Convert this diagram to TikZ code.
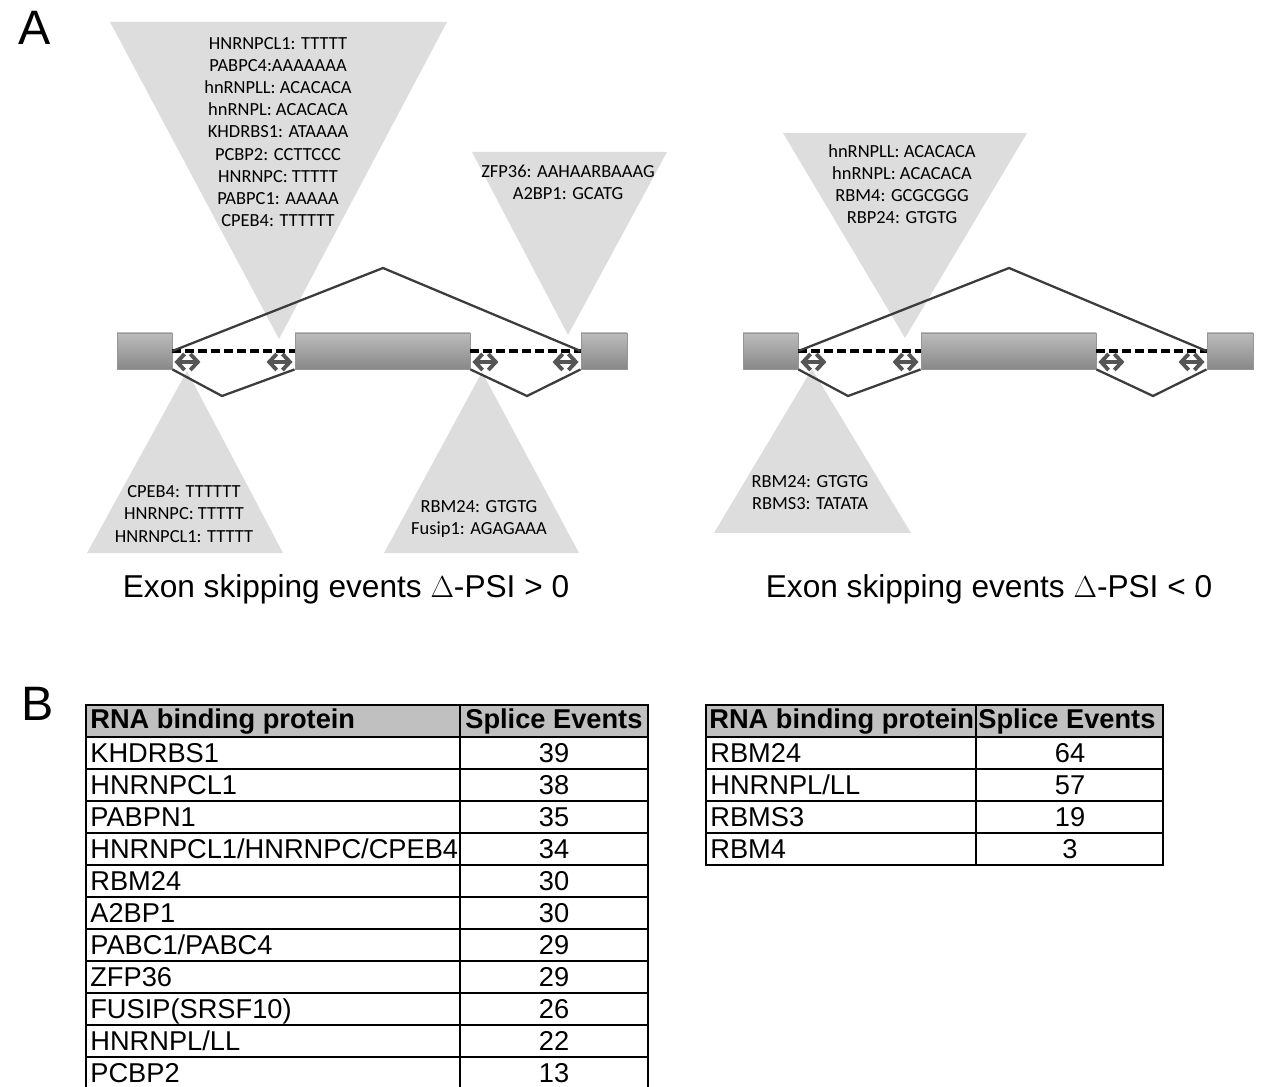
\documentclass[tikz,border=0pt]{standalone}
\usepackage{fontspec}
\setmainfont{Liberation Sans}
\newfontfamily\calibri{Carlito}
\usetikzlibrary{arrows.meta,positioning,fit,calc,shadows}
\definecolor{mist}{RGB}{221,221,221}
\definecolor{exontop}{RGB}{188,188,188}
\definecolor{exonbot}{RGB}{136,136,136}
\definecolor{exonrim}{RGB}{150,150,150}
\definecolor{intron}{RGB}{60,60,60}
\definecolor{flankgray}{RGB}{85,85,85}
\definecolor{headgray}{RGB}{192,192,192}
\tikzset{
  exon/.style={draw=exonrim,line width=0.5pt,top color=exontop,bottom color=exonbot,inner sep=0pt,
    drop shadow={opacity=0.25,shadow xshift=0.7pt,shadow yshift=-0.7pt}},
  splice/.style={draw=intron,line width=1.3pt},
  junction/.style={line width=1.8pt,dash pattern=on 4.8pt off 2.6pt},
  flank/.style={draw=flankgray,line width=2.2pt,{Straight Barb[length=1.5mm,width=3.2mm]}-{Straight Barb[length=1.5mm,width=3.2mm]}},
  motif/.style={font=\calibri\fontsize{10.5}{12.6}\selectfont,align=center},
  caption/.style={font=\fontsize{18}{21}\selectfont,anchor=base},
  panel/.style={font=\fontsize{27.5}{30}\selectfont,anchor=base west},
  cell/.style={font=\fontsize{15.5}{18}\selectfont,inner sep=0pt,anchor=base west},
  headcell/.style={cell,font=\fontsize{15.5}{18}\selectfont\bfseries},
  tabline/.style={line width=1.1pt}
}

\begin{document}
\begin{tikzpicture}[x=0.2mm,y=-0.2mm]
  \useasboundingbox (0,0) rectangle (1261,1087);
  \node[panel] (pa) at (12,45) {A};
  \node[panel] (pb) at (15,720) {B};

  % motif triangles
  \fill[mist] (110,22) -- (447,22) -- (279,339) -- cycle;
  \fill[mist] (472,152) -- (667,152) -- (568,335) -- cycle;
  \fill[mist] (783,133) -- (1027,133) -- (905,338) -- cycle;
  \fill[mist] (87,553) -- (283,553) -- (187,371) -- cycle;
  \fill[mist] (384,553) -- (579,553) -- (482,372) -- cycle;
  \fill[mist] (714,533) -- (911,533) -- (812,369) -- cycle;
  \node[motif] (m1) at (278,132) {HNRNPCL1: TTTTT\\PABPC4:AAAAAAA\\hnRNPLL: ACACACA\\hnRNPL: ACACACA\\KHDRBS1: ATAAAA\\PCBP2: CCTTCCC\\HNRNPC: TTTTT\\PABPC1: AAAAA\\CPEB4: TTTTTT};
  \node[motif] (m2) at (568,182) {ZFP36: AAHAARBAAAG\\A2BP1: GCATG};
  \node[motif] (m3) at (902,184) {hnRNPLL: ACACACA\\hnRNPL: ACACACA\\RBM4: GCGCGGG\\RBP24: GTGTG};
  \node[motif] (m4) at (184,514) {CPEB4: TTTTTT\\HNRNPC: TTTTT\\HNRNPCL1: TTTTT};
  \node[motif] (m5) at (479,519) {RBM24: GTGTG\\Fusip1: AGAGAAA};
  \node[motif] (m6) at (810,493) {RBM24: GTGTG\\RBMS3: TATATA};

  % the two exon skipping events
  \foreach \g/\dx in {l/0,r/626}{
    \node[exon,fit={(117+\dx,333)(172+\dx,369)}] (\g1) {};
    \node[exon,fit={(295+\dx,333)(470+\dx,369)}] (\g2) {};
    \node[exon,fit={(581+\dx,333)(627+\dx,369)}] (\g3) {};
    \coordinate (\g top) at (383+\dx,268);
    \coordinate (\g dipA) at (222+\dx,396);
    \coordinate (\g dipB) at (527+\dx,396);
    \draw[junction] (\g1.east) -- (\g2.west) (\g2.east) -- (\g3.west);
    \draw[splice] (\g1.east) -- (\g top) -- (\g3.west);
    \draw[splice] (\g1.south east) -- (\g dipA) -- (\g2.south west);
    \draw[splice] (\g2.south east) -- (\g dipB) -- (\g3.south west);
    \draw[flank] ([shift={(2,11)}]\g1.east) -- ++(26,0);
    \draw[flank] ([shift={(-28,11)}]\g2.west) -- ++(26,0);
    \draw[flank] ([shift={(2,11)}]\g2.east) -- ++(26,0);
    \draw[flank] ([shift={(-28,11)}]\g3.west) -- ++(26,0);
  }
  \node[caption] (capl) at (346,597) {Exon skipping events $\Delta$-PSI > 0};
  \node[caption] (capr) at (989,597) {Exon skipping events $\Delta$-PSI < 0};

  % table, positive events
  \fill[headgray] (86,705) rectangle (648,737);
  \node[headcell] (lh1) at (90,728) {RNA binding protein};
  \node[headcell] (lh2) at (465,728) {Splice Events};
  \foreach \p/\n [count=\i] in {KHDRBS1/39,HNRNPCL1/38,PABPN1/35,HNRNPCL1\slash HNRNPC\slash CPEB4/34,
    RBM24/30,A2BP1/30,PABC1\slash PABC4/29,ZFP36/29,FUSIP(SRSF10)/26,HNRNPL\slash LL/22,PCBP2/13}{
    \node[cell] (lp\i) at (90,730+32*\i) {\p};
    \node[cell,anchor=base] (lv\i) at (554,730+32*\i) {\n};
  }
  \foreach \i in {0,...,10}
    \draw[tabline] (86,737+32*\i) -- (648,737+32*\i);
  \draw[tabline] (86,705) rectangle (648,1091) (460,705) -- (460,1091);

  % table, negative events
  \fill[headgray] (706,705) rectangle (1163,737);
  \node[headcell] (rh1) at (709,728) {RNA binding protein};
  \node[headcell] (rh2) at (978,728) {Splice Events};
  \foreach \p/\n [count=\i] in {RBM24/64,HNRNPL\slash LL/57,RBMS3/19,RBM4/3}{
    \node[cell] (rp\i) at (710,730+32*\i) {\p};
    \node[cell,anchor=base] (rv\i) at (1070,730+32*\i) {\n};
  }
  \foreach \i in {0,...,3}
    \draw[tabline] (706,737+32*\i) -- (1163,737+32*\i);
  \draw[tabline] (706,705) rectangle (1163,865) (976,705) -- (976,865);
\end{tikzpicture}
\end{document}
